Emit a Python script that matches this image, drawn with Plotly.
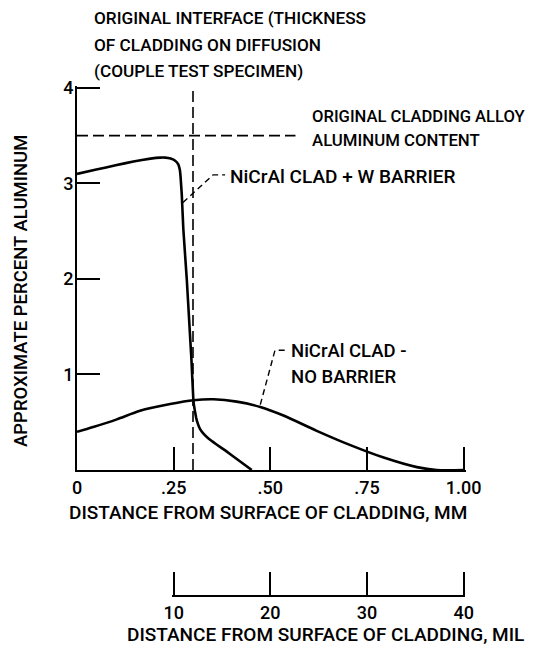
import plotly.graph_objects as go

# ---- data (distance in mm, aluminum in percent) ----
w_barrier_x = [0.0, 0.05, 0.10, 0.146, 0.19, 0.215, 0.228, 0.242, 0.253, 0.262, 0.266, 0.268,
               0.271, 0.275, 0.284, 0.290, 0.296, 0.301, 0.304, 0.308, 0.312, 0.318, 0.327,
               0.340, 0.360, 0.385, 0.415, 0.452]
w_barrier_y = [3.10, 3.145, 3.19, 3.23, 3.26, 3.27, 3.27, 3.26, 3.24, 3.20, 3.14, 3.06,
               2.88, 2.52, 1.99, 1.57, 1.15, 0.73, 0.64, 0.55, 0.49, 0.43, 0.38,
               0.33, 0.27, 0.20, 0.11, 0.0]

no_barrier_x = [0.0, 0.042, 0.103, 0.163, 0.241, 0.301, 0.353, 0.413, 0.474, 0.534, 0.620,
                0.707, 0.793, 0.879, 0.93, 1.0]
no_barrier_y = [0.40, 0.45, 0.53, 0.62, 0.69, 0.73, 0.74, 0.716, 0.66, 0.57, 0.41,
                0.26, 0.13, 0.03, 0.0, 0.0]

original_interface_mm = 0.30
original_al_content = 3.5
original_al_x_end = 0.565

leader_w_x = [0.274, 0.352, 0.383]
leader_w_y = [2.80, 3.09, 3.09]
leader_nb_x = [0.474, 0.512, 0.538]
leader_nb_y = [0.684, 1.253, 1.253]

mm_ticks = [0, 0.25, 0.50, 0.75, 1.00]
mm_ticktext = ["0", ".25", ".50", ".75", "1.00"]
pct_ticks = [1, 2, 3, 4]
pct_ticktext = ["1", "2", "3", "4"]
mil_ticks = [10, 20, 30, 40]
mil_ticktext = ["10", "20", "30", "40"]

FONT = "Roboto, Liberation Sans, Arial, sans-serif"
WEIGHT = 500

# ---- layout geometry (pixels) ----
W, H = 548, 646
X_MAX = 1.006          # small headroom so the end ticks are kept
Y_MAX = 4.02
L, R, T, B = 77, 82, 86, 50
PW, PH = W - L - R, H - T - B
y0_px = 470            # pixel row of the main x axis
MIL_TO_MM = 0.025      # drawing scale of the mil axis relative to the mm axis
MIL_RANGE = [9.85, 40.15]


def xp(px):
    return (px - L) / PW


def yp(py):
    return (H - B - py) / PH


fig = go.Figure()

fig.add_trace(go.Scatter(x=[original_interface_mm, original_interface_mm], y=[0, 4], mode="lines",
                         line=dict(color="black", width=1.6, dash="11px,5px"), cliponaxis=False,
                         hoverinfo="skip"))
fig.add_trace(go.Scatter(x=[0, original_al_x_end], y=[original_al_content, original_al_content],
                         mode="lines", line=dict(color="black", width=1.6, dash="11px,5px"),
                         cliponaxis=False, hoverinfo="skip"))
fig.add_trace(go.Scatter(x=w_barrier_x, y=w_barrier_y, mode="lines",
                         line=dict(color="black", width=2.6, shape="spline", smoothing=0.25),
                         cliponaxis=False))
fig.add_trace(go.Scatter(x=no_barrier_x, y=no_barrier_y, mode="lines",
                         line=dict(color="black", width=2.6, shape="spline", smoothing=0.8),
                         cliponaxis=False))
fig.add_trace(go.Scatter(x=leader_w_x, y=leader_w_y, mode="lines",
                         line=dict(color="black", width=1.4, dash="6px,4px"), cliponaxis=False))
fig.add_trace(go.Scatter(x=leader_nb_x, y=leader_nb_y, mode="lines",
                         line=dict(color="black", width=1.4, dash="6px,4px"), cliponaxis=False))
# mil scale (secondary axis)
fig.add_trace(go.Scatter(x=mil_ticks, y=[None] * len(mil_ticks), xaxis="x2", yaxis="y",
                         mode="lines", hoverinfo="skip"))

dom_bottom = yp(y0_px)
axis_common = dict(showgrid=False, zeroline=False, showline=True, linecolor="black", linewidth=2,
                   ticks="inside", ticklen=23, tickwidth=2, tickcolor="black",
                   tickfont=dict(family=FONT, size=18, color="black", weight=WEIGHT))

mil_dom = [MIL_RANGE[0] * MIL_TO_MM / X_MAX, MIL_RANGE[1] * MIL_TO_MM / X_MAX]

fig.update_layout(
    width=W, height=H,
    margin=dict(l=L, r=R, t=T, b=B, pad=0),
    paper_bgcolor="white", plot_bgcolor="rgba(0,0,0,0)",
    showlegend=False,
    font=dict(family=FONT, color="black"),
    xaxis=dict(range=[0, X_MAX], tickvals=mm_ticks, ticktext=mm_ticktext, anchor="y", **axis_common),
    yaxis=dict(range=[0, Y_MAX], domain=[dom_bottom, 1], tickvals=pct_ticks, ticktext=pct_ticktext,
               ticklabelstandoff=-2, **axis_common),
    xaxis2=dict(range=MIL_RANGE, domain=mil_dom, anchor="free", position=0,
                tickvals=mil_ticks, ticktext=mil_ticktext, **axis_common),
)

anns = [
    ("ORIGINAL INTERFACE (THICKNESS", 92, 18, 17.2, "left", 0),
    ("OF CLADDING ON DIFFUSION", 92, 45, 17.2, "left", 0),
    ("(COUPLE TEST SPECIMEN)", 92, 71, 17.2, "left", 0),
    ("ORIGINAL CLADDING ALLOY", 310, 116, 16.6, "left", 0),
    ("ALUMINUM CONTENT", 310, 140, 16.8, "left", 0),
    ("NiCrAl CLAD + W BARRIER", 228, 176, 19, "left", 0),
    ("NiCrAl CLAD -", 289, 351, 18.5, "left", 0),
    ("NO BARRIER", 289, 377, 18.5, "left", 0),
    ("DISTANCE FROM SURFACE OF CLADDING, MM", 268, 512, 19, "center", 0),
    ("DISTANCE FROM SURFACE OF CLADDING, MIL", 325, 634, 19, "center", 0),
    ("APPROXIMATE PERCENT ALUMINUM", 21, 291, 18.5, "center", -90),
]
for text, px, py, size, anchor, ang in anns:
    fig.add_annotation(text=text, x=xp(px), y=yp(py), xref="paper", yref="paper",
                       xanchor=anchor, yanchor="middle", showarrow=False, textangle=ang,
                       font=dict(family=FONT, size=size, color="black", weight=WEIGHT))

fig.write_html("out.html", config={"displayModeBar": False},
               post_script="document.body.style.margin='0px';")
